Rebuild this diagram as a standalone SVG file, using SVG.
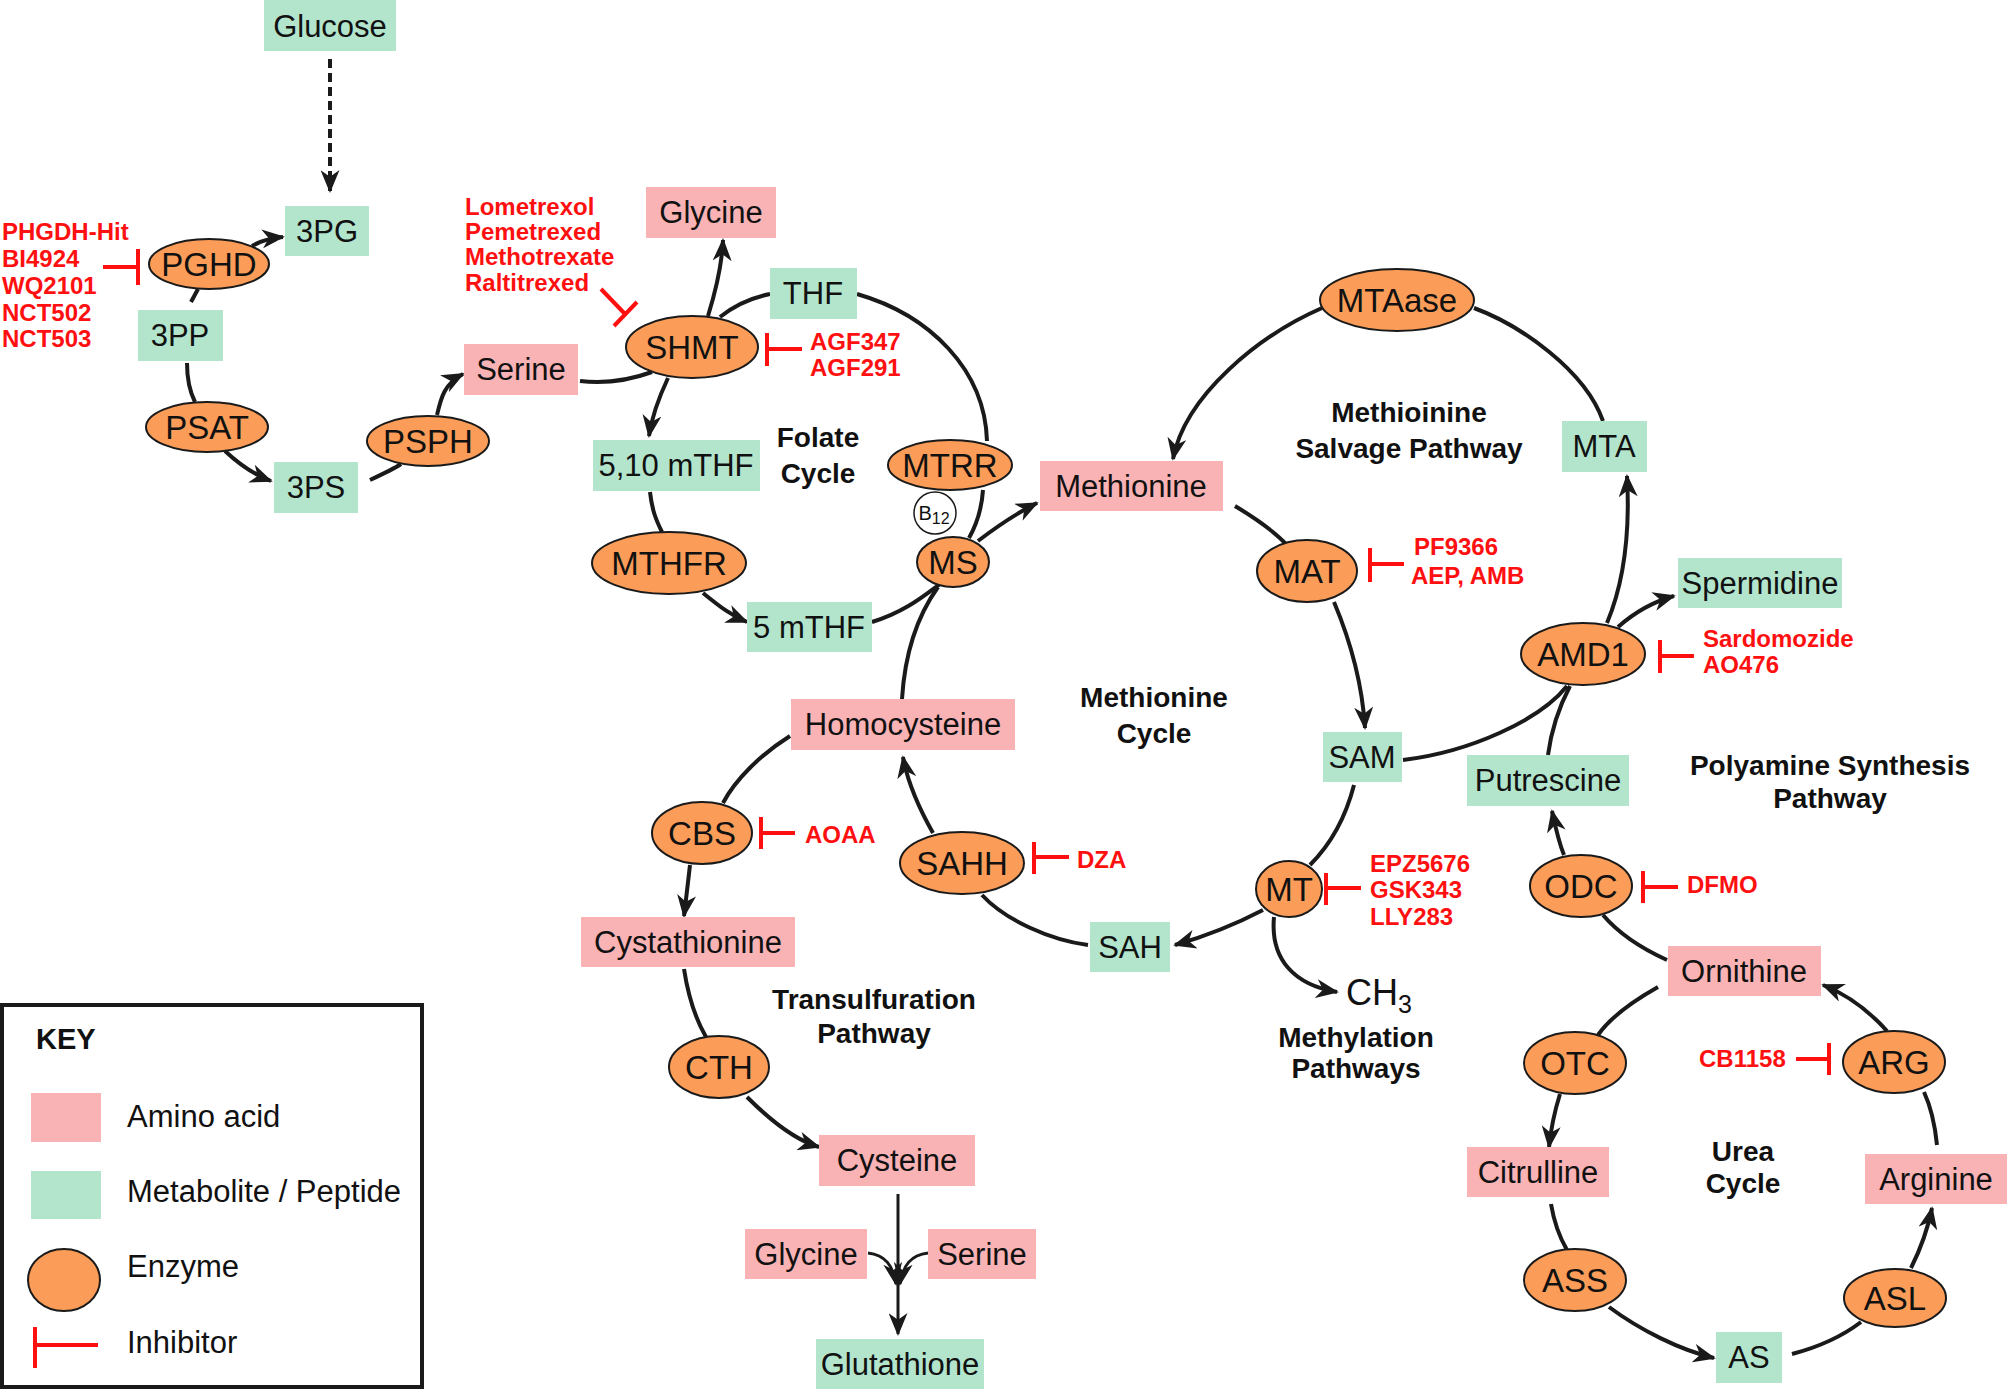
<svg xmlns="http://www.w3.org/2000/svg" width="2008" height="1391" viewBox="0 0 2008 1391">
<style>
.g{fill:#b3e5cd}
.p{fill:#f9b3b5}
.e{fill:#fb9d58;stroke:#1a1a1a;stroke-width:2}
.t{font-family:"Liberation Sans",Arial,sans-serif;font-size:31px;fill:#111;text-anchor:middle}
.et{font-family:"Liberation Sans",Arial,sans-serif;font-size:33px;fill:#111;text-anchor:middle}
.lb{font-family:"Liberation Sans",Arial,sans-serif;font-size:28px;font-weight:bold;fill:#111;text-anchor:middle}
.r{font-family:"Liberation Sans",Arial,sans-serif;font-size:24px;font-weight:bold;fill:#ff1010}
.c{fill:none;stroke:#1a1a1a;stroke-width:4}
.a{fill:none;stroke:#1a1a1a;stroke-width:4;marker-end:url(#ah)}
.i{fill:none;stroke:#ff1010;stroke-width:4}
.k{font-family:"Liberation Sans",Arial,sans-serif;font-size:31px;fill:#111}
</style>
<defs>
<marker id="ah" viewBox="0 0 12 10" refX="11" refY="5" markerWidth="23" markerHeight="19" markerUnits="userSpaceOnUse" orient="auto">
<path d="M0,0 L12,5 L0,10 L3.5,5 z" fill="#1a1a1a"/>
</marker>
</defs>
<rect width="2008" height="1391" fill="#fff"/>

<g id="connectors">
<path class="a" d="M330,59 L330,191" stroke-dasharray="9,5"/>
<path class="a" d="M252,246 C262,240 272,238 283,237"/>
<path class="c" d="M198,289 L191,302"/>
<path class="c" d="M187,363 C187,380 190,392 195,402"/>
<path class="a" d="M225,451 C240,465 255,475 271,481"/>
<path class="c" d="M370,480 C385,473 395,468 401,464"/>
<path class="a" d="M437,415 C441,398 444,384 463,374"/>
<path class="c" d="M580,381 C605,384 630,380 652,372"/>
<path class="a" d="M708,316 C716,290 722,265 723,240"/>
<path class="c" d="M720,317 C735,305 750,298 770,294"/>
<path class="a" d="M668,378 C660,395 652,415 649,436"/>
<path class="c" d="M857,294 C930,315 985,370 987,441"/>
<path class="c" d="M983,490 C982,505 978,522 969,538"/>
<path class="c" d="M650,492 C652,510 656,520 662,532"/>
<path class="a" d="M703,593 C718,605 730,615 747,622"/>
<path class="c" d="M872,622 C905,612 925,595 940,584"/>
<path class="a" d="M978,541 C995,528 1015,514 1037,503"/>
<path class="c" d="M938,587 C918,615 905,650 902,699"/>
<path class="c" d="M1235,506 C1255,518 1273,530 1287,545"/>
<path class="a" d="M1322,308 C1260,335 1185,395 1173,459"/>
<path class="c" d="M1474,308 C1520,325 1585,370 1603,421"/>
<path class="a" d="M1334,602 C1350,640 1362,680 1365,728"/>
<path class="a" d="M1607,623 C1625,580 1630,530 1627,476"/>
<path class="a" d="M1618,627 C1635,612 1652,602 1674,596"/>
<path class="c" d="M1403,760 C1470,752 1540,720 1567,686"/>
<path class="c" d="M1548,755 C1552,725 1560,705 1570,686"/>
<path class="c" d="M1354,785 C1345,820 1330,845 1310,865"/>
<path class="a" d="M1263,910 C1240,922 1210,935 1175,945"/>
<path class="a" d="M1274,917 C1270,960 1295,985 1337,992"/>
<path class="c" d="M1088,945 C1050,940 1005,920 982,895"/>
<path class="a" d="M933,833 C920,810 908,785 903,757"/>
<path class="c" d="M790,736 C760,755 735,780 723,803"/>
<path class="a" d="M690,865 C688,882 686,900 684,916"/>
<path class="c" d="M684,969 C688,995 695,1018 706,1037"/>
<path class="a" d="M747,1097 C770,1120 795,1140 819,1147"/>
<path class="a" d="M898,1194 L898,1334" style="stroke-width:3"/>
<path class="a" d="M868,1253 C885,1255 893,1265 896,1284" style="stroke-width:3"/>
<path class="a" d="M928,1253 C911,1255 903,1265 900,1284" style="stroke-width:3"/>
<path class="a" d="M1564,855 C1558,840 1555,825 1552,811"/>
<path class="c" d="M1603,915 C1620,935 1645,950 1667,960"/>
<path class="c" d="M1658,987 C1635,1000 1612,1015 1598,1035"/>
<path class="a" d="M1560,1094 C1555,1110 1551,1128 1549,1147"/>
<path class="c" d="M1551,1204 C1554,1222 1560,1238 1567,1250"/>
<path class="a" d="M1609,1307 C1640,1330 1680,1350 1714,1358"/>
<path class="c" d="M1792,1354 C1815,1348 1840,1338 1861,1322"/>
<path class="a" d="M1911,1268 C1920,1250 1928,1228 1932,1208"/>
<path class="c" d="M1937,1145 C1935,1125 1930,1105 1924,1092"/>
<path class="a" d="M1887,1031 C1870,1012 1848,995 1823,985"/>
</g>

<g id="inhibitors">
<path class="i" d="M103,267 H138 M138,249 V285"/>
<path class="i" d="M601,289 L625,314 M614,326 L637,302"/>
<path class="i" d="M767,333 V366 M767,349 H802"/>
<path class="i" d="M1370,548 V582 M1370,564 H1404"/>
<path class="i" d="M1660,640 V673 M1660,656 H1694"/>
<path class="i" d="M761,817 V849 M761,833 H795"/>
<path class="i" d="M1034,842 V874 M1034,857 H1069"/>
<path class="i" d="M1326,873 V905 M1326,888 H1361"/>
<path class="i" d="M1643,871 V903 M1643,887 H1678"/>
<path class="i" d="M1796,1059 H1829 M1829,1043 V1075"/>
<text class="r" x="2" y="240">PHGDH-Hit</text>
<text class="r" x="2" y="267">BI4924</text>
<text class="r" x="2" y="294">WQ2101</text>
<text class="r" x="2" y="321">NCT502</text>
<text class="r" x="2" y="347">NCT503</text>
<text class="r" x="465" y="215">Lometrexol</text>
<text class="r" x="465" y="240">Pemetrexed</text>
<text class="r" x="465" y="265">Methotrexate</text>
<text class="r" x="465" y="291">Raltitrexed</text>
<text class="r" x="810" y="350">AGF347</text>
<text class="r" x="810" y="376">AGF291</text>
<text class="r" x="1414" y="555">PF9366</text>
<text class="r" x="1411" y="584">AEP, AMB</text>
<text class="r" x="1703" y="647">Sardomozide</text>
<text class="r" x="1703" y="673">AO476</text>
<text class="r" x="805" y="843">AOAA</text>
<text class="r" x="1077" y="868">DZA</text>
<text class="r" x="1370" y="872">EPZ5676</text>
<text class="r" x="1370" y="898">GSK343</text>
<text class="r" x="1370" y="925">LLY283</text>
<text class="r" x="1687" y="893">DFMO</text>
<text class="r" x="1699" y="1067">CB1158</text>
</g>

<g id="n-glucose"><rect class="g" x="264" y="0" width="132" height="51"/><text class="t" x="330" y="37">Glucose</text></g>
<g id="n-3pg"><rect class="g" x="285" y="206" width="84" height="50"/><text class="t" x="327" y="242">3PG</text></g>
<g id="n-3pp"><rect class="g" x="138" y="310" width="85" height="51"/><text class="t" x="180" y="346">3PP</text></g>
<g id="n-3ps"><rect class="g" x="274" y="462" width="84" height="51"/><text class="t" x="316" y="498">3PS</text></g>
<g id="n-serine"><rect class="p" x="464" y="344" width="114" height="51"/><text class="t" x="521" y="380">Serine</text></g>
<g id="n-glycine"><rect class="p" x="646" y="187" width="130" height="51"/><text class="t" x="711" y="223">Glycine</text></g>
<g id="n-thf"><rect class="g" x="770" y="268" width="87" height="51"/><text class="t" x="813" y="304">THF</text></g>
<g id="n-510mthf"><rect class="g" x="593" y="440" width="167" height="51"/><text class="t" x="676" y="476">5,10 mTHF</text></g>
<g id="n-5mthf"><rect class="g" x="747" y="602" width="125" height="50"/><text class="t" x="809" y="638">5 mTHF</text></g>
<g id="n-methionine"><rect class="p" x="1040" y="461" width="183" height="50"/><text class="t" x="1131" y="497">Methionine</text></g>
<g id="n-mta"><rect class="g" x="1562" y="421" width="85" height="51"/><text class="t" x="1604" y="457">MTA</text></g>
<g id="n-spermidine"><rect class="g" x="1678" y="558" width="164" height="50"/><text class="t" x="1760" y="594">Spermidine</text></g>
<g id="n-sam"><rect class="g" x="1323" y="732" width="79" height="50"/><text class="t" x="1362" y="768">SAM</text></g>
<g id="n-putrescine"><rect class="g" x="1467" y="755" width="162" height="51"/><text class="t" x="1548" y="791">Putrescine</text></g>
<g id="n-homocysteine"><rect class="p" x="791" y="699" width="224" height="51"/><text class="t" x="903" y="735">Homocysteine</text></g>
<g id="n-cystathionine"><rect class="p" x="581" y="917" width="214" height="50"/><text class="t" x="688" y="953">Cystathionine</text></g>
<g id="n-sah"><rect class="g" x="1090" y="922" width="80" height="50"/><text class="t" x="1130" y="958">SAH</text></g>
<g id="n-ornithine"><rect class="p" x="1668" y="946" width="153" height="50"/><text class="t" x="1744" y="982">Ornithine</text></g>
<g id="n-citrulline"><rect class="p" x="1467" y="1147" width="142" height="50"/><text class="t" x="1538" y="1183">Citrulline</text></g>
<g id="n-arginine"><rect class="p" x="1865" y="1154" width="142" height="50"/><text class="t" x="1936" y="1190">Arginine</text></g>
<g id="n-as"><rect class="g" x="1716" y="1332" width="66" height="51"/><text class="t" x="1749" y="1368">AS</text></g>
<g id="n-cysteine"><rect class="p" x="819" y="1135" width="156" height="51"/><text class="t" x="897" y="1171">Cysteine</text></g>
<g id="n-glycine2"><rect class="p" x="745" y="1229" width="122" height="50"/><text class="t" x="806" y="1265">Glycine</text></g>
<g id="n-serine2"><rect class="p" x="928" y="1229" width="108" height="50"/><text class="t" x="982" y="1265">Serine</text></g>
<g id="n-glutathione"><rect class="g" x="816" y="1339" width="168" height="50"/><text class="t" x="900" y="1375">Glutathione</text></g>

<g id="n-pghd"><ellipse class="e" cx="209" cy="264" rx="60" ry="25"/><text class="et" x="209" y="276">PGHD</text></g>
<g id="n-psat"><ellipse class="e" cx="207" cy="427" rx="61" ry="25"/><text class="et" x="207" y="439">PSAT</text></g>
<g id="n-psph"><ellipse class="e" cx="428" cy="441" rx="61" ry="25"/><text class="et" x="428" y="453">PSPH</text></g>
<g id="n-shmt"><ellipse class="e" cx="692" cy="347" rx="66" ry="31"/><text class="et" x="692" y="359">SHMT</text></g>
<g id="n-mthfr"><ellipse class="e" cx="669" cy="563" rx="77" ry="31"/><text class="et" x="669" y="575">MTHFR</text></g>
<g id="n-mtrr"><ellipse class="e" cx="950" cy="465" rx="62" ry="25"/><text class="et" x="950" y="477">MTRR</text></g>
<g id="n-b12"><circle cx="935" cy="513" r="21" fill="#fff" stroke="#1a1a1a" stroke-width="1.5"/><text x="934" y="520" font-family="Liberation Sans, Arial, sans-serif" font-size="20" fill="#111" text-anchor="middle">B<tspan font-size="16" dy="4">12</tspan></text></g>
<g id="n-ms"><ellipse class="e" cx="953" cy="562" rx="36" ry="25"/><text class="et" x="953" y="574">MS</text></g>
<g id="n-mtaase"><ellipse class="e" cx="1397" cy="300" rx="77" ry="31"/><text class="et" x="1397" y="312">MTAase</text></g>
<g id="n-mat"><ellipse class="e" cx="1307" cy="571" rx="50" ry="31"/><text class="et" x="1307" y="583">MAT</text></g>
<g id="n-amd1"><ellipse class="e" cx="1583" cy="654" rx="62" ry="31"/><text class="et" x="1583" y="666">AMD1</text></g>
<g id="n-sahh"><ellipse class="e" cx="962" cy="863" rx="62" ry="31"/><text class="et" x="962" y="875">SAHH</text></g>
<g id="n-mt"><ellipse class="e" cx="1289" cy="889" rx="33" ry="28"/><text class="et" x="1289" y="901">MT</text></g>
<g id="n-odc"><ellipse class="e" cx="1581" cy="886" rx="51" ry="31"/><text class="et" x="1581" y="898">ODC</text></g>
<g id="n-cbs"><ellipse class="e" cx="702" cy="833" rx="50" ry="31"/><text class="et" x="702" y="845">CBS</text></g>
<g id="n-cth"><ellipse class="e" cx="719" cy="1067" rx="50" ry="31"/><text class="et" x="719" y="1079">CTH</text></g>
<g id="n-otc"><ellipse class="e" cx="1575" cy="1063" rx="51" ry="31"/><text class="et" x="1575" y="1075">OTC</text></g>
<g id="n-arg"><ellipse class="e" cx="1894" cy="1062" rx="51" ry="31"/><text class="et" x="1894" y="1074">ARG</text></g>
<g id="n-ass"><ellipse class="e" cx="1575" cy="1280" rx="51" ry="31"/><text class="et" x="1575" y="1292">ASS</text></g>
<g id="n-asl"><ellipse class="e" cx="1895" cy="1298" rx="51" ry="29"/><text class="et" x="1895" y="1310">ASL</text></g>

<g id="n-ch3"><text x="1346" y="1005" font-family="Liberation Sans, Arial, sans-serif" font-size="36" fill="#111">CH<tspan font-size="25" dy="8">3</tspan></text></g>

<g id="labels">
<text class="lb" x="818" y="447">Folate</text>
<text class="lb" x="818" y="483">Cycle</text>
<text class="lb" x="1409" y="422">Methioinine</text>
<text class="lb" x="1409" y="458">Salvage Pathway</text>
<text class="lb" x="1154" y="707">Methionine</text>
<text class="lb" x="1154" y="743">Cycle</text>
<text class="lb" x="1830" y="775">Polyamine Synthesis</text>
<text class="lb" x="1830" y="808">Pathway</text>
<text class="lb" x="874" y="1009">Transulfuration</text>
<text class="lb" x="874" y="1043">Pathway</text>
<text class="lb" x="1356" y="1047">Methylation</text>
<text class="lb" x="1356" y="1078">Pathways</text>
<text class="lb" x="1743" y="1161">Urea</text>
<text class="lb" x="1743" y="1193">Cycle</text>
</g>

<g id="key">
<rect x="2" y="1005" width="420" height="382" fill="#fff" stroke="#1a1a1a" stroke-width="4"/>
<text x="36" y="1049" font-family="Liberation Sans, Arial, sans-serif" font-size="29" font-weight="bold" fill="#111">KEY</text>
<rect class="p" x="31" y="1093" width="70" height="49"/>
<text class="k" x="127" y="1127">Amino acid</text>
<rect class="g" x="31" y="1171" width="70" height="48"/>
<text class="k" x="127" y="1202">Metabolite / Peptide</text>
<ellipse class="e" cx="64" cy="1280" rx="36" ry="31"/>
<text class="k" x="127" y="1277">Enzyme</text>
<path class="i" d="M35,1327 V1368 M35,1345 H98"/>
<text class="k" x="127" y="1353">Inhibitor</text>
</g>
</svg>
